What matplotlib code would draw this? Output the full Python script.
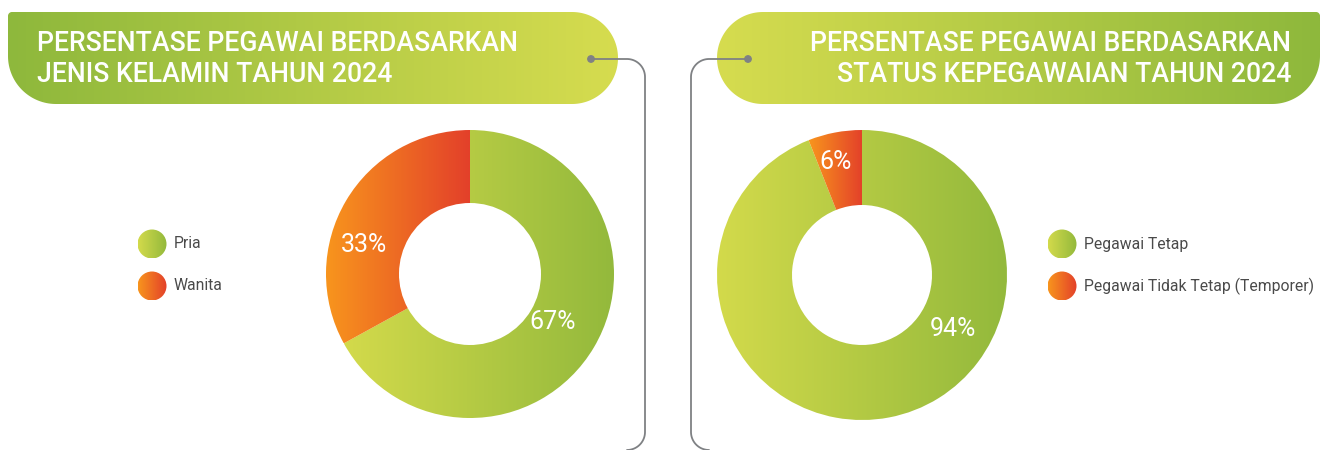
import numpy as np
import matplotlib
matplotlib.use("Agg")
import matplotlib.pyplot as plt
from matplotlib.path import Path
from matplotlib.patches import PathPatch, Circle
from matplotlib.colors import LinearSegmentedColormap

# ===================================================================
# Data
# ===================================================================
gender_labels = ["Pria", "Wanita"]
gender_values = [67, 33]
status_labels = ["Pegawai Tetap", "Pegawai Tidak Tetap (Temporer)"]
status_values = [94, 6]

title_gender = "PERSENTASE PEGAWAI BERDASARKAN\nJENIS KELAMIN TAHUN 2024"
title_status = "PERSENTASE PEGAWAI BERDASARKAN\nSTATUS KEPEGAWAIAN TAHUN 2024"

# colours: (left, right) of each horizontal gradient
GREEN = ("#d3da4b", "#93b93c")
ORANGE = ("#f8951d", "#e3402a")
LINE = "#7f8184"

W, H = 1328, 450


def py(y):
    # pixel rows are measured from the top, the axes run bottom-up
    return H - y


def gradient_fill(ax, patch, c0, c1, z=2):
    ax.add_patch(patch)
    patch.set_facecolor("none")
    patch.set_edgecolor("none")
    bb = patch.get_path().get_extents(patch.get_patch_transform())
    cmap = LinearSegmentedColormap.from_list("g", [c0, c1])
    im = ax.imshow(np.linspace(0, 1, 256)[None, :], cmap=cmap, aspect="auto",
                   extent=[bb.x0, bb.x1, bb.y0, bb.y1], interpolation="bilinear",
                   zorder=z)
    im.set_clip_path(patch)
    return im


def rounded_box(x0, y0, x1, y1, r_tl, r_tr, r_br, r_bl):
    pts = []
    for (cx, cy, r, a0, a1) in [(x0 + r_tl, y1 - r_tl, r_tl, 180, 90),
                                (x1 - r_tr, y1 - r_tr, r_tr, 90, 0),
                                (x1 - r_br, y0 + r_br, r_br, 0, -90),
                                (x0 + r_bl, y0 + r_bl, r_bl, -90, -180)]:
        t = np.radians(np.linspace(a0, a1, 40))
        pts += list(zip(cx + r * np.cos(t), cy + r * np.sin(t)))
    pts.append(pts[0])
    return Path(pts, closed=True)


def connector(ax, dot, x_vert, r=18):
    # horizontal from the dot, bend down, run to the bottom and bend again
    dx, dy = dot
    s = np.sign(x_vert - dx)
    t = np.radians(np.linspace(90, 0, 30))
    top_x = x_vert - s * r + s * r * np.cos(t)
    top_y = py(dy + r) + r * np.sin(t)
    bot_x = x_vert - s * r + s * r * np.cos(-t[::-1])
    bot_y = py(H - r) + r * np.sin(-t[::-1])
    xs = np.concatenate([[dx], top_x, bot_x])
    ys = np.concatenate([[py(dy)], top_y, bot_y])
    ax.plot(xs, ys, color=LINE, lw=1.3, solid_capstyle="round", zorder=4)
    ax.add_patch(Circle((dx, py(dy)), 3.2, color=LINE, zorder=5))


def donut(ax, values, center, r_out, r_in, pct_pos):
    wedges, _ = ax.pie(values, center=center, radius=r_out, startangle=90,
                       counterclock=False, frame=True,
                       wedgeprops=dict(width=r_out - r_in))
    for w, cols in zip(wedges, [GREEN, ORANGE]):
        w.remove()
        gradient_fill(ax, w, *cols)
    for v, (x, y) in zip(values, pct_pos):
        ax.text(x, py(y), f"{v}%", color="white", fontsize=18, family="Roboto",
                ha="center", va="center", zorder=6)


def legend(ax, labels, x, ys):
    for lab, y, cols in zip(labels, ys, [GREEN, ORANGE]):
        gradient_fill(ax, Circle((x, py(y)), 14.5), *cols)
        ax.text(x + 22, py(y), lab, color="#4a4a4a", fontsize=11.3,
                family="Roboto", ha="left", va="center")


fig = plt.figure(figsize=(W / 100, H / 100), dpi=100)
ax = fig.add_axes([0, 0, 1, 1])

# title banners
gradient_fill(ax, PathPatch(rounded_box(8, py(104), 618, py(12), 4, 46, 46, 48)),
              "#8eb83c", "#d6dc4f", z=1)
gradient_fill(ax, PathPatch(rounded_box(717, py(104), 1320, py(12), 46, 4, 48, 46)),
              "#d6dc4f", "#8eb83c", z=1)
ax.text(37, py(59), title_gender, color="white", fontsize=19.2, family="Roboto",
        fontweight="medium", ha="left", va="center", linespacing=1.22, zorder=3)
ax.text(1291, py(59), title_status, color="white", fontsize=19.2, family="Roboto",
        fontweight="medium", ha="right", va="center", linespacing=1.22, zorder=3,
        multialignment="right")

connector(ax, (591, 59), 645)
connector(ax, (748, 59), 691)

donut(ax, gender_values, (470, py(274)), 144, 71, [(553, 322), (364, 245)])
donut(ax, status_values, (862, py(275)), 145, 70, [(953, 329), (836, 162)])

legend(ax, gender_labels, 152, [244, 286])
legend(ax, status_labels, 1062, [244, 286])

ax.set_xlim(0, W)
ax.set_ylim(0, H)
ax.set_aspect("auto")
ax.axis("off")
fig.savefig("out.png", dpi=100)
